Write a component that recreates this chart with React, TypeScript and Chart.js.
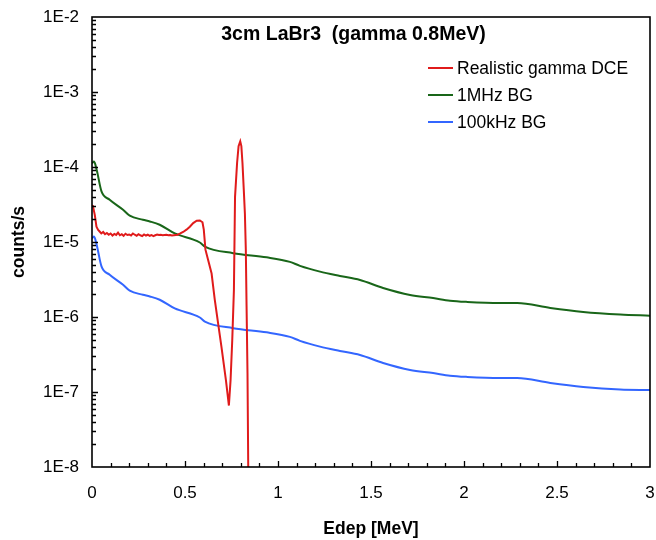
import React, { useEffect, useRef } from "react";
import { Chart, registerables } from "chart.js";

Chart.register(...registerables);

const TITLE = "3cm LaBr3  (gamma 0.8MeV)";
const X_LABEL = "Edep [MeV]";
const Y_LABEL = "counts/s";
const X_TICKS = [0, 0.5, 1, 1.5, 2, 2.5, 3];
const Y_TICKS = [1e-8, 1e-7, 1e-6, 1e-5, 1e-4, 1e-3, 1e-2];
const SERIES_NAMES = ["Realistic gamma DCE", "1MHz BG", "100kHz BG"];
const SERIES_COLORS = ["#e01b1b", "#196619", "#3366ff"];

const DCE_E = [
  0, 0.005, 0.015, 0.024, 0.033, 0.041, 0.05, 0.06, 0.07, 0.08, 0.09, 0.1, 0.11, 0.12, 0.13, 0.14,
  0.15, 0.16, 0.17, 0.18, 0.19, 0.2, 0.21, 0.22, 0.23, 0.24, 0.25, 0.26, 0.27, 0.28, 0.29, 0.3,
  0.31, 0.32, 0.33, 0.34, 0.35, 0.36, 0.37, 0.38, 0.39, 0.4, 0.41, 0.42, 0.43, 0.44, 0.46, 0.472,
  0.49, 0.508, 0.526, 0.544, 0.563, 0.58, 0.594, 0.601, 0.61, 0.624, 0.643, 0.66, 0.678, 0.696,
  0.72, 0.736, 0.745, 0.754, 0.763, 0.769, 0.78, 0.788, 0.797, 0.803, 0.809, 0.816, 0.822, 0.827,
  0.831, 0.836, 0.84, 0.845,
];
const DCE_COUNTS = [
  3.1e-5, 3.0e-5, 2.3e-5, 1.6e-5, 1.45e-5, 1.38e-5, 1.3e-5, 1.36e-5, 1.27e-5, 1.32e-5, 1.25e-5,
  1.3e-5, 1.22e-5, 1.28e-5, 1.24e-5, 1.33e-5, 1.23e-5, 1.27e-5, 1.21e-5, 1.29e-5, 1.24e-5, 1.26e-5,
  1.22e-5, 1.3e-5, 1.25e-5, 1.21e-5, 1.27e-5, 1.23e-5, 1.2e-5, 1.26e-5, 1.22e-5, 1.25e-5, 1.21e-5,
  1.24e-5, 1.2e-5, 1.23e-5, 1.26e-5, 1.24e-5, 1.25e-5, 1.23e-5, 1.24e-5, 1.25e-5, 1.23e-5, 1.24e-5,
  1.22e-5, 1.23e-5, 1.25e-5, 1.29e-5, 1.36e-5, 1.46e-5, 1.6e-5, 1.79e-5, 1.92e-5, 1.94e-5, 1.83e-5,
  1.46e-5, 7.9e-6, 5.8e-6, 3.8e-6, 1.7e-6, 8.2e-7, 4.0e-7, 1.44e-7, 6.6e-8, 1.44e-7, 4.9e-7, 2.3e-6,
  4.0e-5, 1.13e-4, 1.9e-4, 2.2e-4, 1.9e-4, 1.13e-4, 5.0e-5, 2.4e-5, 7.9e-6, 1.4e-6, 1.8e-7, 1e-8,
  1e-10,
];

const BG1M_E = [
  0, 0.011, 0.025, 0.051, 0.095, 0.167, 0.203, 0.274, 0.311, 0.364, 0.445, 0.58, 0.607, 0.759,
  0.939, 1.064, 1.118, 1.226, 1.333, 1.441, 1.565, 1.71, 1.834, 1.925, 2.017, 2.194, 2.286, 2.464,
  2.641, 2.84, 3.0,
];
const BG1M_COUNTS = [
  1.12e-4, 1.18e-4, 9.2e-5, 4.73e-5, 3.66e-5, 2.69e-5, 2.24e-5, 1.98e-5, 1.88e-5, 1.7e-5, 1.3e-5,
  9.85e-6, 8.7e-6, 7.1e-6, 6.24e-6, 5.43e-6, 4.81e-6, 4.03e-6, 3.53e-6, 3.12e-6, 2.44e-6, 1.97e-6,
  1.79e-6, 1.65e-6, 1.59e-6, 1.54e-6, 1.54e-6, 1.32e-6, 1.17e-6, 1.08e-6, 1.04e-6,
];

const BG100K_E = [
  0, 0.011, 0.025, 0.051, 0.095, 0.167, 0.203, 0.274, 0.311, 0.364, 0.445, 0.58, 0.607, 0.759,
  0.939, 1.064, 1.118, 1.226, 1.333, 1.441, 1.565, 1.71, 1.834, 1.925, 2.017, 2.194, 2.286, 2.464,
  2.641, 2.84, 3.0,
];
const BG100K_COUNTS = [
  1.12e-5, 1.18e-5, 9.2e-6, 4.73e-6, 3.66e-6, 2.69e-6, 2.24e-6, 1.98e-6, 1.88e-6, 1.7e-6, 1.3e-6,
  9.85e-7, 8.7e-7, 7.1e-7, 6.24e-7, 5.43e-7, 4.81e-7, 4.03e-7, 3.53e-7, 3.12e-7, 2.44e-7, 1.97e-7,
  1.79e-7, 1.65e-7, 1.59e-7, 1.54e-7, 1.54e-7, 1.32e-7, 1.17e-7, 1.08e-7, 1.06e-7,
];

const FONT = "'Liberation Sans', Arial, Helvetica, sans-serif";

const toPoints = (xs: number[], ys: number[]) => xs.map((x, i) => ({ x, y: ys[i] }));

const zeroPadding = (scale: any) => {
  scale.paddingLeft = 0;
  scale.paddingRight = 0;
  scale.paddingTop = 0;
  scale.paddingBottom = 0;
};

const decorPlugin = {
  id: "decor",
  afterDraw(chart: any) {
    const { ctx, chartArea: a, scales } = chart;
    const xs = scales.x;
    const ys = scales.y;
    ctx.save();
    ctx.strokeStyle = "#000";
    ctx.lineWidth = 1.3;
    ctx.beginPath();
    for (let i = 1; i < 30; i++) {
      const px = Math.round(xs.getPixelForValue(i / 10)) + 0.5;
      const len = i % 5 === 0 ? 6 : 4;
      ctx.moveTo(px, a.bottom);
      ctx.lineTo(px, a.bottom - len);
    }
    for (let e = -8; e <= -3; e++) {
      for (let m = 1; m <= 9; m++) {
        if (e === -8 && m === 1) continue;
        const py = Math.round(ys.getPixelForValue(m * Math.pow(10, e))) + 0.5;
        const len = m === 1 ? 6 : 4;
        ctx.moveTo(a.left, py);
        ctx.lineTo(a.left + len, py);
      }
    }
    ctx.stroke();
    ctx.lineWidth = 1.6;
    ctx.strokeRect(a.left, a.top, a.right - a.left, a.bottom - a.top);

    ctx.fillStyle = "#000";
    ctx.font = `bold 19.5px ${FONT}`;
    ctx.textAlign = "center";
    ctx.textBaseline = "middle";
    ctx.fillText(TITLE, 353.5, 35);

    ctx.font = `17.5px ${FONT}`;
    ctx.textAlign = "left";
    chart.data.datasets.forEach((ds: any, i: number) => {
      const y = 68 + i * 27;
      ctx.strokeStyle = ds.borderColor;
      ctx.lineWidth = 2;
      ctx.beginPath();
      ctx.moveTo(428, y);
      ctx.lineTo(453, y);
      ctx.stroke();
      ctx.fillStyle = "#000";
      ctx.fillText(ds.label, 457, y + 1);
    });
    ctx.restore();
  },
};

export default function App() {
  const ref = useRef<HTMLCanvasElement | null>(null);

  useEffect(() => {
    document.body.style.margin = "0";
    const canvas = ref.current;
    if (!canvas) return;
    const chart = new Chart(canvas, {
      type: "line",
      data: {
        datasets: [
          {
            label: SERIES_NAMES[0],
            data: toPoints(DCE_E, DCE_COUNTS),
            borderColor: SERIES_COLORS[0],
            borderWidth: 2,
            pointRadius: 0,
            tension: 0,
          },
          {
            label: SERIES_NAMES[1],
            data: toPoints(BG1M_E, BG1M_COUNTS),
            borderColor: SERIES_COLORS[1],
            borderWidth: 2,
            pointRadius: 0,
            cubicInterpolationMode: "monotone",
          },
          {
            label: SERIES_NAMES[2],
            data: toPoints(BG100K_E, BG100K_COUNTS),
            borderColor: SERIES_COLORS[2],
            borderWidth: 2,
            pointRadius: 0,
            cubicInterpolationMode: "monotone",
          },
        ],
      },
      options: {
        animation: false,
        responsive: false,
        events: [],
        layout: { padding: { top: 17, right: 6, left: 0, bottom: 0 } },
        plugins: {
          legend: { display: false },
          tooltip: { enabled: false },
          title: { display: false },
        },
        scales: {
          x: {
            type: "linear",
            min: 0,
            max: 3,
            grid: { display: false, drawTicks: false },
            border: { display: false },
            afterBuildTicks: (scale: any) => {
              scale.ticks = X_TICKS.map((v) => ({ value: v }));
            },
            afterFit: (scale: any) => {
              scale.height = 73;
              zeroPadding(scale);
            },
            ticks: {
              autoSkip: false,
              maxRotation: 0,
              padding: 16,
              color: "#000",
              font: { family: FONT, size: 17 },
              callback: (v: any) => String(v),
            },
            title: {
              display: true,
              text: X_LABEL,
              color: "#000",
              font: { family: FONT, size: 17.5, weight: "bold" },
              padding: { top: 0, bottom: 0 },
            },
          },
          y: {
            type: "logarithmic",
            min: 1e-8,
            max: 1e-2,
            grid: { display: false, drawTicks: false },
            border: { display: false },
            afterBuildTicks: (scale: any) => {
              scale.ticks = Y_TICKS.map((v) => ({ value: v }));
            },
            afterFit: (scale: any) => {
              scale.width = 92;
              zeroPadding(scale);
            },
            ticks: {
              autoSkip: false,
              padding: 13,
              color: "#000",
              font: { family: FONT, size: 17 },
              callback: (v: any) => `1E${Math.round(Math.log10(Number(v)))}`,
            },
            title: {
              display: true,
              text: Y_LABEL,
              color: "#000",
              font: { family: FONT, size: 17.5, weight: "bold" },
              padding: { top: 8.5, bottom: 0 },
            },
          },
        },
      },
      plugins: [decorPlugin],
    } as any);
    return () => chart.destroy();
  }, []);

  return <canvas ref={ref} width={656} height={540} style={{ display: "block" }} />;
}
